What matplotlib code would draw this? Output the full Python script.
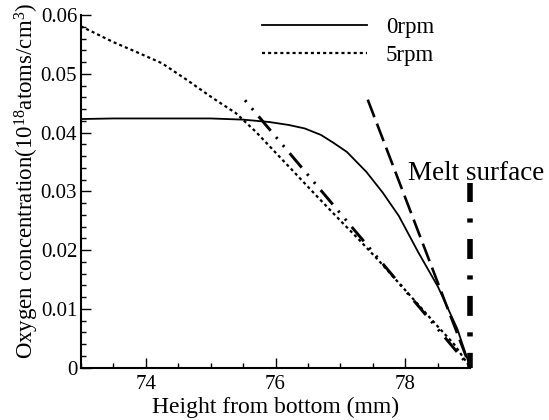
import numpy as np
import matplotlib
matplotlib.use('Agg')
import matplotlib.pyplot as plt
from matplotlib.ticker import MultipleLocator, FormatStrFormatter

plt.rcParams['font.family'] = ['Liberation Serif', 'DejaVu Serif']
plt.rcParams['mathtext.fontset'] = 'custom'
plt.rcParams['mathtext.rm'] = 'Liberation Serif'
plt.rcParams['mathtext.it'] = 'Liberation Serif:italic'
plt.rcParams['lines.scale_dashes'] = False

# perfis de concentracao de oxigenio
height_0rpm = [73.0, 73.5, 74.0, 74.5, 75.0, 75.5, 75.9, 76.2, 76.45, 76.7,
               76.9, 77.1, 77.4, 77.65, 77.9, 78.2, 78.5, 78.8, 79.0]
conc_0rpm = [0.0423, 0.0424, 0.0424, 0.0424, 0.0424, 0.0422, 0.0418, 0.0413,
             0.0407, 0.0396, 0.0382, 0.0367, 0.0333, 0.0298, 0.0258, 0.0196,
             0.0138, 0.0066, 0.0]

height_5rpm = [73.0, 73.5, 73.86, 74.25, 74.63, 75.03, 75.39, 75.7, 76.0, 76.25,
               76.6, 77.0, 77.25, 77.6, 77.9, 78.2, 78.5, 78.75, 79.0]
conc_5rpm = [0.0581, 0.0554, 0.0537, 0.0518, 0.0490, 0.0459, 0.0433, 0.0401,
             0.0366, 0.0337, 0.0296, 0.0250, 0.0222, 0.0181, 0.0144, 0.0107,
             0.0070, 0.0040, 0.0]

# tangentes na superficie
tangent_0rpm_x = [77.42, 79.0]
tangent_0rpm_y = [0.0456, 0.0]
tangent_5rpm_x = [75.53, 79.0]
tangent_5rpm_y = [0.0455, 0.0]

# superficie do fundido
surface_x = [79.0, 79.0]
surface_y = [0.0, 0.0315]

fig = plt.figure(figsize=(5.49, 4.20), dpi=100)
ax = fig.add_axes([0.147, 0.1245, 0.7097, 0.8398])

ax.plot(height_0rpm, conc_0rpm, color='black', lw=1.3, label='0rpm')
ax.plot(height_5rpm, conc_5rpm, color='black', lw=1.6,
        linestyle=(0, (2.2, 2.2)), label='5rpm')

ax.plot(tangent_0rpm_x, tangent_0rpm_y, color='black', lw=1.9,
        linestyle=(0, (13.5, 5.0)), dash_capstyle='butt')
ax.plot(tangent_5rpm_x, tangent_5rpm_y, color='black', lw=2.1,
        linestyle=(0, (1.6, 6.0, 1.6, 6.0, 13.5, 6.0)), dash_capstyle='butt')
ax.plot(surface_x, surface_y, color='black', lw=4.0,
        linestyle=(3.5, (14.4, 11.8, 3.0, 11.8)), dash_capstyle='butt',
        clip_on=False)

ax.text(78.04, 0.0319, 'Melt surface', fontsize=19.5, va='baseline', ha='left')

ax.set_xlim(73, 79)
ax.set_ylim(0, 0.06)
ax.xaxis.set_major_locator(MultipleLocator(2))
ax.xaxis.set_minor_locator(MultipleLocator(0.5))
ax.yaxis.set_major_locator(MultipleLocator(0.01))
ax.yaxis.set_minor_locator(MultipleLocator(0.002))
ax.yaxis.set_major_formatter(FormatStrFormatter('%g'))

for side in ['top', 'right']:
    ax.spines[side].set_visible(False)
for side in ['left', 'bottom']:
    ax.spines[side].set_linewidth(1.5)

ax.tick_params(which='both', direction='in', width=1.0, labelsize=15)
ax.tick_params(which='major', length=7)
ax.tick_params(which='minor', length=3.8)
ax.tick_params(axis='y', pad=2.5)
ax.tick_params(axis='x', pad=5)

ax.set_xlabel('Height from bottom (mm)', fontsize=17, labelpad=2)
ax.set_ylabel('Oxygen concentration(10$^{18}$atoms/cm$^{3}$)', fontsize=16.5,
              va='center')
ax.yaxis.set_label_coords(-0.138, 0.529)

ax.legend(loc='upper left', bbox_to_anchor=(262 / 549, 1 - 17 / 420),
          bbox_transform=fig.transFigure, frameon=False, fontsize=16.5,
          handlelength=4.6, handletextpad=0.8, borderpad=0, borderaxespad=0,
          labelspacing=0.3)

fig.savefig('out.png', dpi=100)
